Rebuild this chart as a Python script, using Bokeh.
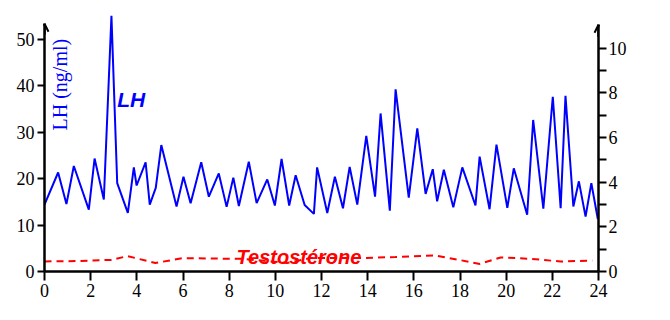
from bokeh.plotting import figure
from bokeh.models import Range1d, LinearAxis, FixedTicker, Label, Arrow, OpenHead
from bokeh.embed import file_html
from bokeh.resources import INLINE
import math

# LH (ng/ml) vs time (h)
lh_time = [0, 0.59, 0.95, 1.27, 1.92, 2.17, 2.57, 2.90, 3.15, 3.61,
           3.87, 3.99, 4.38, 4.56, 4.82, 5.06, 5.72, 6.02, 6.33, 6.79,
           7.12, 7.55, 7.89, 8.18, 8.42, 8.85, 9.19, 9.65, 9.98, 10.27,
           10.60, 10.88, 11.27, 11.67, 11.81, 12.25, 12.58, 12.93, 13.22, 13.55,
           13.94, 14.32, 14.56, 14.96, 15.21, 15.78, 16.15, 16.51, 16.82, 17.01,
           17.30, 17.71, 18.10, 18.67, 18.85, 19.28, 19.58, 20.05, 20.33, 20.91,
           21.17, 21.61, 22.02, 22.36, 22.57, 22.91, 23.15, 23.44, 23.69, 23.97]
lh_values = [14.4, 21.3, 14.5, 22.7, 13.3, 24.3, 15.5, 55.0, 19.0, 12.6,
             22.4, 18.5, 23.5, 14.4, 18.0, 27.2, 14.0, 20.4, 14.7, 23.5,
             16.1, 21.1, 13.9, 20.2, 14.1, 23.6, 14.7, 19.8, 14.2, 24.2,
             14.2, 20.7, 14.3, 12.4, 22.4, 12.6, 20.4, 13.6, 22.5, 14.4,
             29.2, 16.1, 34.0, 13.1, 39.2, 15.9, 30.8, 16.7, 22.0, 15.1,
             21.9, 13.8, 22.4, 14.2, 24.7, 13.4, 27.3, 13.7, 22.2, 12.2,
             32.6, 13.5, 37.6, 13.6, 37.8, 14.0, 19.4, 11.8, 19.0, 11.3]

# Testosterone (ng/ml) vs time (h)
t_time = [0, 1.5, 2.9, 3.6, 4.8, 6.0, 7.2, 8.5, 9.5, 10.5, 11.5,
          12.7, 13.85, 15.2, 16.4, 16.9, 17.9, 18.86, 19.76, 21.0, 22.36, 23.73]
t_values = [0.45, 0.47, 0.52, 0.69, 0.38, 0.60, 0.58, 0.57, 0.48, 0.38, 0.60,
            0.60, 0.60, 0.65, 0.70, 0.72, 0.53, 0.34, 0.63, 0.57, 0.45, 0.49]

x_ticks = [0, 2, 4, 6, 8, 10, 12, 14, 16, 18, 20, 22, 24]
lh_ticks = [0, 10, 20, 30, 40, 50]
t_ticks = [0, 2, 4, 6, 8, 10]
t_minor_ticks = [1, 3, 5, 7, 9]

SERIF = "Liberation Serif"
SANS = "Liberation Sans"

p = figure(width=670, height=320, output_backend="svg", toolbar_location=None,
           x_range=Range1d(0, 24), y_range=Range1d(0, 55.72),
           min_border_left=44, min_border_right=72, min_border_top=12, min_border_bottom=49,
           x_axis_location=None, y_axis_location=None)
p.outline_line_color = None
p.xgrid.visible = False
p.ygrid.visible = False
p.extra_y_ranges = {"T": Range1d(0, 11.59)}


def make_axis(tout, mout, stand, **kw):
    return LinearAxis(axis_line_width=2.5, axis_line_color="black",
                      major_tick_line_width=2, major_tick_out=tout, major_tick_in=0,
                      minor_tick_out=mout, minor_tick_in=0, minor_tick_line_width=2,
                      major_label_text_font=SERIF, major_label_text_font_size="18px",
                      major_label_text_font_style="normal",
                      major_label_text_color="black", major_label_standoff=stand, **kw)


xaxis = make_axis(9, 0, 3, ticker=FixedTicker(ticks=x_ticks))
yaxis = make_axis(7, 0, 3, ticker=FixedTicker(ticks=lh_ticks), bounds=(0, 53.3))
raxis = make_axis(8, 8, 2, y_range_name="T",
                  ticker=FixedTicker(ticks=t_ticks, minor_ticks=t_minor_ticks), bounds=(0, 11.04))
p.add_layout(xaxis, "below")
p.add_layout(yaxis, "left")
p.add_layout(raxis, "right")

p.line(lh_time, lh_values, line_color="#0000FF", line_width=2)
p.line(t_time, t_values, y_range_name="T", line_color="#FF0000", line_width=2, line_dash="7 5")

p.add_layout(Arrow(end=OpenHead(size=8, line_width=2, line_color="black"),
                   x_start=0, y_start=51, x_end=0, y_end=53.3, line_width=2.5))
p.add_layout(Arrow(end=OpenHead(size=8, line_width=2, line_color="black"),
                   x_start=24, y_start=10.5, x_end=24, y_end=11.04, line_width=2.5, y_range_name="T"))

p.add_layout(Label(x=0.69, y=40.2, text="LH (ng/ml)", angle=math.pi / 2,
                   text_align="center", text_baseline="middle",
                   text_font=SERIF, text_font_size="20px", text_color="#0000FF"))
p.add_layout(Label(x=3.15, y=36.9, text="LH", text_align="left", text_baseline="alphabetic",
                   text_font=SANS, text_font_style="bold italic", text_font_size="21px",
                   text_color="#0000FF"))
p.add_layout(Label(x=8.32, y=3.08, text="Testostérone", text_align="left", text_baseline="alphabetic",
                   text_font=SANS, text_font_style="bold italic", text_font_size="20px",
                   text_color="#FF0000"))
p.add_layout(Label(x=26.13, y=26.45, text="Testostérone (ng/ml)", angle=math.pi / 2,
                   text_align="center", text_baseline="middle",
                   text_font=SANS, text_font_size="19px", text_color="#FF0000"))
p.add_layout(Label(x=20.7, y=-8.9, text="Temps (h)", text_align="center", text_baseline="alphabetic",
                   text_font=SANS, text_font_style="bold", text_font_size="15px",
                   text_color="black"))

open("out.html", "w").write(file_html(p, INLINE))
